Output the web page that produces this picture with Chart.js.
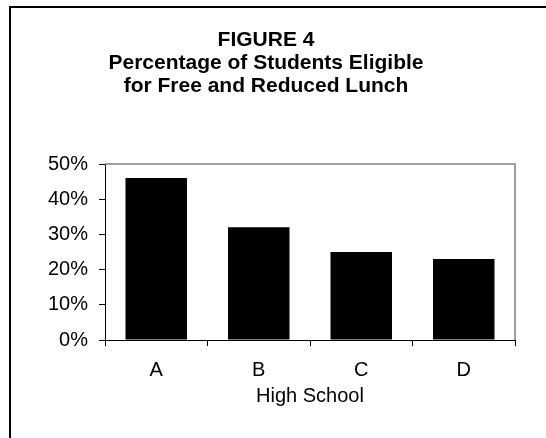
<!DOCTYPE html>
<html><head><meta charset="utf-8">
<script src="https://cdn.jsdelivr.net/npm/chart.js@4/dist/chart.umd.min.js"></script>
<style>html,body{margin:0;padding:0;background:#fff;overflow:hidden}#wrap{width:546px;height:438px;position:relative}</style>
</head><body><div id="wrap"><canvas id="c"></canvas></div>
<script>
const categories = ['A', 'B', 'C', 'D'];
const values = [46, 32, 25, 23];
const yTicks = [0, 10, 20, 30, 40, 50];
const titleLines = ['FIGURE 4', 'Percentage of Students Eligible', 'for Free and Reduced Lunch'];
const xTitle = 'High School';

const FONT = '"Liberation Sans", Arial, sans-serif';

const framePlugin = {
  id: 'frame',
  beforeDraw(chart) {
    const ctx = chart.ctx;
    ctx.save();
    ctx.strokeStyle = '#000';
    ctx.lineWidth = 2;
    ctx.beginPath();
    ctx.moveTo(10, 600);
    ctx.lineTo(10, 7);
    ctx.lineTo(600, 7);
    ctx.stroke();
    ctx.restore();
  },
  beforeDatasetsDraw(chart) {
    const {ctx, chartArea: a} = chart;
    ctx.save();
    ctx.strokeStyle = '#808080';
    ctx.lineWidth = 1.5;
    ctx.beginPath();
    ctx.moveTo(a.left, a.top);
    ctx.lineTo(a.right, a.top);
    ctx.lineTo(a.right, a.bottom);
    ctx.stroke();
    ctx.restore();
  }
};

new Chart(document.getElementById('c'), {
  type: 'bar',
  data: {
    labels: categories,
    datasets: [{
      data: values,
      backgroundColor: '#000',
      borderWidth: 0,
      barPercentage: 0.6,
      categoryPercentage: 1.0
    }]
  },
  options: {
    responsive: true,
    maintainAspectRatio: false,
    animation: false,
    layout: { padding: { left: 17, right: 31, top: 28.5, bottom: 0 } },
    plugins: {
      legend: { display: false },
      tooltip: { enabled: false },
      title: {
        display: true,
        text: titleLines,
        color: '#000',
        font: { family: FONT, size: 21, weight: 'bold', lineHeight: 23 / 21 },
        padding: { top: 0, bottom: 66.5 }
      }
    },
    scales: {
      x: {
        afterFit(s) { s.height = 98; },
        grid: { display: true, drawOnChartArea: false, drawTicks: true, tickLength: 6, color: '#000', offset: true },
        border: { display: true, color: '#000', width: 1 },
        ticks: { color: '#000', font: { family: FONT, size: 20 }, padding: 12, maxRotation: 0 },
        title: { display: true, text: xTitle, color: '#000', font: { family: FONT, size: 20 }, padding: { top: 0, bottom: 30 } }
      },
      y: {
        min: 0, max: 50,
        afterFit(s) { s.width = 88; },
        afterBuildTicks(s) { s.ticks = yTicks.map(v => ({ value: v })); },
        grid: { display: true, drawOnChartArea: false, drawTicks: true, tickLength: 6, color: '#000' },
        border: { display: true, color: '#000', width: 1 },
        ticks: { color: '#000', font: { family: FONT, size: 20 }, padding: 11, callback: v => v + '%' }
      }
    }
  },
  plugins: [framePlugin]
});
</script>
</body></html>
